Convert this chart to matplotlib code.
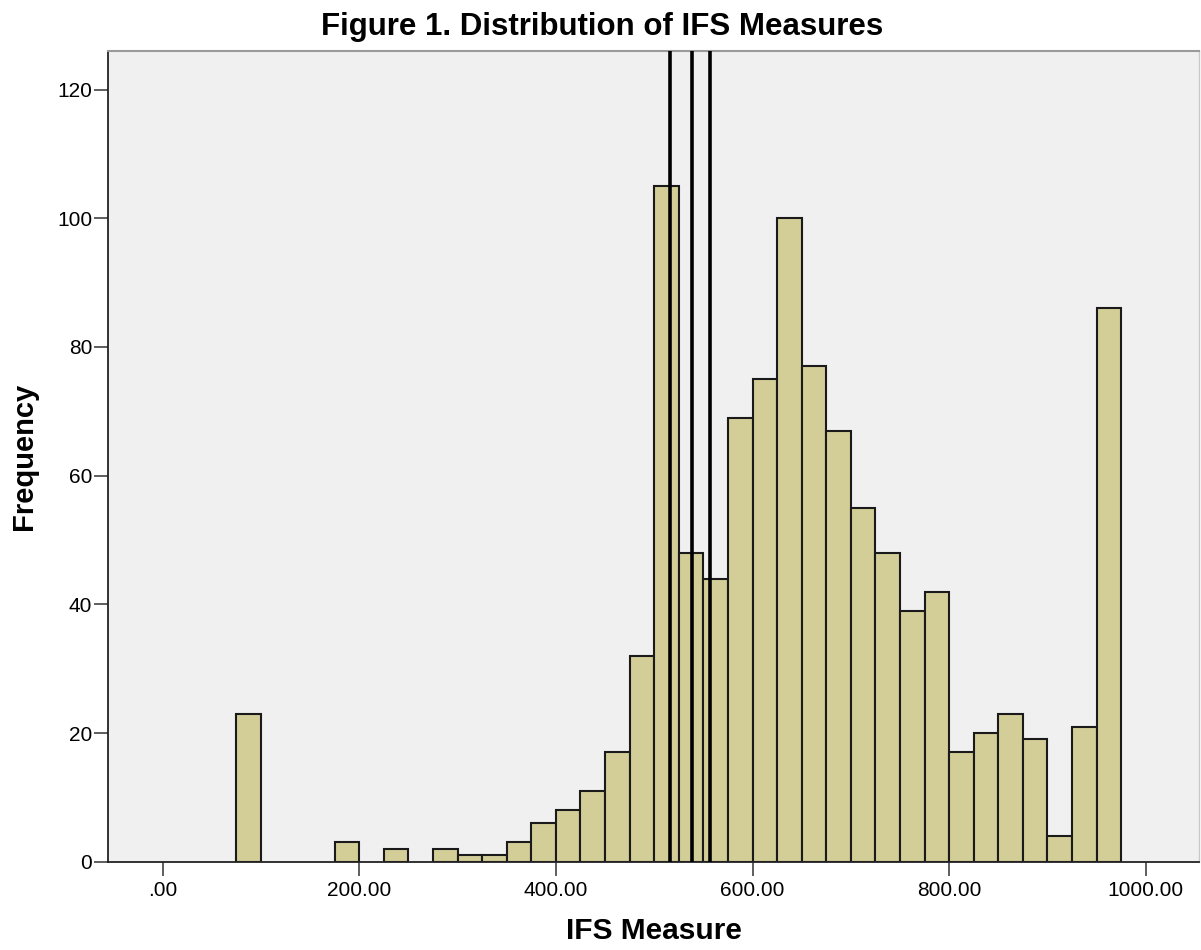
import numpy as np
import matplotlib
matplotlib.use("Agg")
import matplotlib.pyplot as plt

plt.rcParams['font.family'] = ['Liberation Sans', 'DejaVu Sans']

# histogram data (bin width 25)
bin_starts = [75, 100, 125, 150, 175, 200, 225, 250, 275, 300, 325, 350,
              375, 400, 425, 450, 475, 500, 525, 550, 575, 600, 625, 650,
              675, 700, 725, 750, 775, 800, 825, 850, 875, 900, 925, 950]
counts = [23, 0, 0, 0, 3, 0, 2, 0, 2, 1, 1, 3,
          6, 8, 11, 17, 32, 105, 48, 44, 69, 75, 100, 77,
          67, 55, 48, 39, 42, 17, 20, 23, 19, 4, 21, 86]
bin_width = 25

# vertical reference lines
ref_lines = [516, 538.5, 556.5]

x_ticks = [0, 200, 400, 600, 800, 1000]
x_tick_labels = ['.00', '200.00', '400.00', '600.00', '800.00', '1000.00']
y_ticks = [0, 20, 40, 60, 80, 100, 120]

fig = plt.figure(figsize=(12.01, 9.5), dpi=100)
ax = fig.add_axes([0.0902, 0.0929, 0.9078, 0.8534])
ax.set_facecolor('#f0f0f0')

starts = [s for s, c in zip(bin_starts, counts) if c > 0]
heights = [c for c in counts if c > 0]
ax.bar(starts, heights, width=bin_width, align='edge', color='#d3ce97',
       edgecolor='#1a1a1a', linewidth=1.5, zorder=2)

for x in ref_lines:
    ax.axvline(x, color='black', linewidth=2.6, zorder=3)

ax.set_xlim(-55.3, 1053.8)
ax.set_ylim(0, 126)
ax.set_xticks(x_ticks)
ax.set_xticklabels(x_tick_labels)
ax.set_yticks(y_ticks)
ax.tick_params(axis='both', labelsize=15, length=10, width=1.1,
               color='#333333', direction='out')
ax.tick_params(axis='x', pad=4)
ax.tick_params(axis='y', pad=1.5)

for side in ['left', 'bottom']:
    ax.spines[side].set_color('#222222')
    ax.spines[side].set_linewidth(1.3)
ax.spines['top'].set_color('#9a9a9a')
ax.spines['top'].set_linewidth(1.5)
ax.spines['right'].set_color('#c8c8c8')
ax.spines['right'].set_linewidth(1.0)

ax.set_xlabel('IFS Measure', fontsize=21.5, fontweight='bold', labelpad=12)
ax.set_ylabel('Frequency', fontsize=21, fontweight='bold', labelpad=14)
fig.text(0.501, 0.972, 'Figure 1. Distribution of IFS Measures',
         ha='center', va='center', fontsize=22.5, fontweight='bold')

plt.savefig('out.png', dpi=100)
